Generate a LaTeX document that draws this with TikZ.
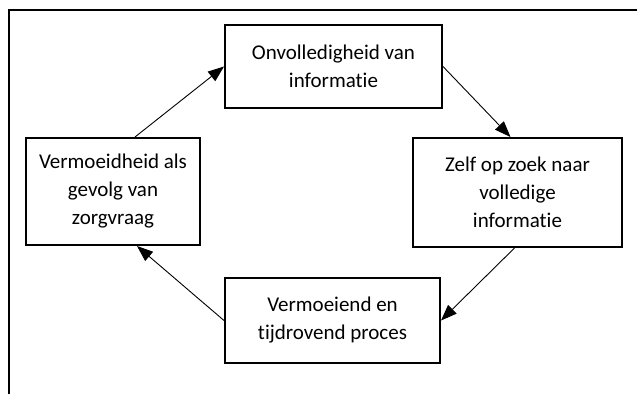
\documentclass[tikz,border=0pt]{standalone}
\usepackage{fontspec}
\setmainfont[Ligatures=NoCommon]{Carlito}
\usetikzlibrary{arrows.meta}
\begin{document}
\begin{tikzpicture}[x=1pt,y=-1pt,
  box/.style={draw, line width=2pt, rectangle, align=center, inner sep=0pt,
    font=\fontsize{21}{28}\selectfont},
  flow/.style={line width=0.9pt, -{Triangle[length=16pt,width=12pt]}},
  frame/.style={line width=1.6pt}]
\useasboundingbox (0,0) rectangle (637,394);
% open frame: only top and left edges
\draw[frame] (9,394) -- (9,10) -- (637,10);
% the four steps of the cycle
\node[box, minimum width=217pt, minimum height=83pt] (tb) at (333.5,66.5)
  {Onvolledigheid van\\informatie};
\node[box, minimum width=209pt, minimum height=109pt] (rb) at (517.5,192.5)
  {Zelf op zoek naar\\volledige\\informatie};
\node[box, minimum width=215pt, minimum height=85pt] (bb) at (332.5,320.5)
  {Vermoeiend en\\tijdrovend proces};
\node[box, minimum width=174pt, minimum height=107pt] (lb) at (113,191.5)
  {Vermoeidheid als\\gevolg van\\zorgvraag};
% connectors
\draw[flow] (tb.east) -- ([xshift=-7pt]rb.north);
\draw[flow] ([xshift=-3pt]rb.south) -- (bb.east);
\draw[flow] (bb.west) -- ([xshift=24pt]lb.south);
\draw[flow] ([xshift=22pt]lb.north) -- (tb.west);
\end{tikzpicture}
\end{document}
